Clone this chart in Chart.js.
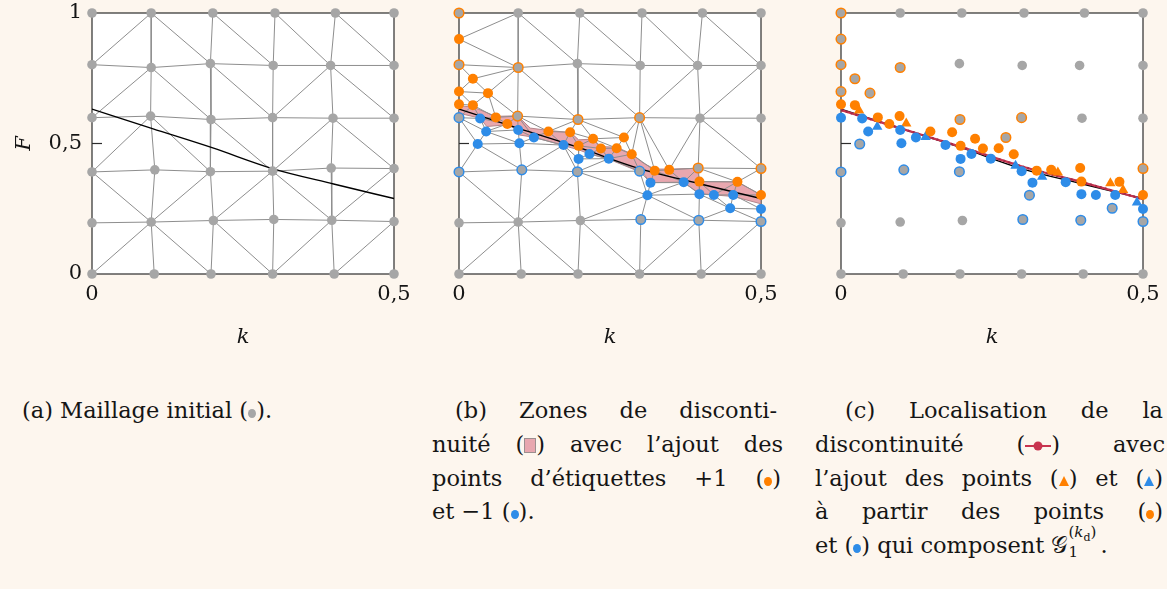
<!DOCTYPE html>
<html>
<head>
<meta charset="utf-8">
<script src="https://cdn.jsdelivr.net/npm/chart.js@4"></script>
<style>
html,body{margin:0;padding:0;background:#fdf6ee;width:1167px;height:589px;overflow:hidden;position:relative;}
canvas{position:absolute;}
.cap{position:absolute;font-family:"DejaVu Serif",serif;font-size:22.5px;color:#151515;line-height:34px;}
.j{text-align:justify;text-align-last:justify;}
.ic{display:inline-block;vertical-align:0px;}
.dot{width:8px;height:9px;border-radius:50%;}
.g{background:#a6a6a6;} .o{background:#ff8000;} .b{background:#2e8ce8;}
.sq{width:10px;height:13px;background:#e8a7af;border:1px solid #9b8f8f;vertical-align:-1px;}
.G{font-family:"DejaVu Serif","DejaVu Sans",serif;}
.ss{position:relative;display:inline-block;width:33px;height:10px;}
.ss span{position:absolute;left:1px;font-size:15px;line-height:1;}
</style>
</head>
<body>
<canvas id="pa"></canvas>
<canvas id="pb"></canvas>
<canvas id="pc"></canvas>

<div class="cap" style="left:22px;top:393px;">(a) Maillage initial (<span class="ic dot g"></span>).</div>

<div class="cap j" style="left:455px;top:393px;width:322px;">(b) Zones de disconti-</div>
<div class="cap j" style="left:432px;top:427px;width:351px;">nuité (<span class="ic sq"></span>) avec l’ajout des</div>
<div class="cap j" style="left:432px;top:461px;width:349px;">points d’étiquettes +1 (<span class="ic dot o"></span>)</div>
<div class="cap" style="left:432px;top:494px;">et −1 (<span class="ic dot b"></span>).</div>

<div class="cap j" style="left:845px;top:393px;width:318px;">(c) Localisation de la</div>
<div class="cap j" style="left:815px;top:427px;width:350px;">discontinuité (<svg class="ic" width="26" height="12" style="vertical-align:0px"><line x1="0" y1="6" x2="26" y2="6" stroke="#c8344f" stroke-width="2"/><circle cx="13" cy="6" r="4.5" fill="#c8344f"/></svg>) avec</div>
<div class="cap j" style="left:815px;top:461px;width:348px;">l’ajout des points (<svg class="ic" width="10" height="10"><polygon points="5,0 10,10 0,10" fill="#ff8000"/></svg>) et (<svg class="ic" width="10" height="10"><polygon points="5,0 10,10 0,10" fill="#2e8ce8"/></svg>)</div>
<div class="cap j" style="left:815px;top:494px;width:348px;">à partir des points (<span class="ic dot o"></span>)</div>
<div class="cap" style="left:815px;top:528px;">et (<span class="ic dot b"></span>) qui composent <span class="G">𝒢</span><span class="ss"><span style="top:-18px">(<i>k</i><sub style="font-size:11px">d</sub>)</span><span style="top:2px">1</span></span>.</div>

<script>
// ---------- DATA ----------
const kTickValues = [0, 0.5];
const FTickValues = [0, 0.5, 1];
const tickText = {0: '0', 0.5: '0,5', 1: '1'};
const axisTitleK = 'k';
const axisTitleF = 'F';

// initial mesh nodes, rows by F level (A: F=1 ... G: F=0), columns k≈0..0.5
const meshRowA = [[0,1],[0.098,1],[0.200,1],[0.303,1],[0.403,1],[0.5,1]];
const meshRowB = [[0,0.802],[0.098,0.791],[0.196,0.806],[0.300,0.799],[0.395,0.799],[0.5,0.799]];
const meshRowC = [[0,0.599],[0.097,0.605],[0.197,0.592],[0.299,0.599],[0.399,0.597],[0.5,0.597]];
const meshRowD = [[0,0.391],[0.104,0.399],[0.196,0.392],[0.299,0.394],[0.396,0.406],[0.5,0.404]];
const meshRowE = [[0,0.196],[0.098,0.199],[0.201,0.205],[0.301,0.209],[0.397,0.206],[0.5,0.201]];
const meshRowG = [[0,0],[0.103,0],[0.197,0],[0.299,0],[0.401,0],[0.5,0]];

// added points with label +1 (o1..o21) and -1 (u1..u18)
const plusPoints = [[0,0.900],[0.023,0.748],[0,0.699],[0.048,0.693],[0,0.650],[0.023,0.647],[0.061,0.600],[0.080,0.575],[0.148,0.546],[0.184,0.543],[0.222,0.518],[0.273,0.523],[0.198,0.491],[0.235,0.481],[0.261,0.482],[0.286,0.459],[0.324,0.396],[0.348,0.399],[0.398,0.354],[0.461,0.353],[0.5,0.303]];
const minusPoints = [[0.035,0.596],[0.045,0.546],[0.031,0.498],[0.098,0.552],[0.100,0.501],[0.124,0.523],[0.173,0.494],[0.198,0.441],[0.216,0.460],[0.248,0.442],[0.317,0.350],[0.312,0.302],[0.372,0.352],[0.398,0.306],[0.422,0.303],[0.454,0.303],[0.449,0.252],[0.5,0.249]];

// exact discontinuity curve and localised discontinuity
const exactK = [0, 0.1, 0.2, 0.3, 0.4, 0.5];
const exactF = [0.632, 0.557, 0.483, 0.403, 0.345, 0.289];
const localK = [0, 0.1, 0.2, 0.3, 0.4, 0.5];
const localF = [0.628, 0.557, 0.486, 0.412, 0.351, 0.287];

// discontinuity zone outline (panel b)
const bandUpper = [[0,0.645],[0.024,0.639],[0.061,0.604],[0.097,0.606],[0.118,0.559],[0.148,0.550],[0.185,0.542],[0.198,0.514],[0.222,0.517],[0.235,0.488],[0.261,0.486],[0.286,0.460],[0.305,0.425],[0.324,0.402],[0.348,0.402],[0.395,0.405],[0.398,0.354],[0.461,0.353],[0.5,0.303]];
const bandLower = [[0.5,0.269],[0.454,0.297],[0.422,0.303],[0.398,0.309],[0.372,0.350],[0.317,0.350],[0.305,0.386],[0.248,0.440],[0.216,0.460],[0.198,0.476],[0.173,0.492],[0.124,0.524],[0.099,0.533],[0.097,0.552],[0.080,0.572],[0.046,0.565],[0.035,0.597],[0,0.616]];

// mesh edges
const meshEdgesA = [
 'B0-B1','B1-B2','B2-B3','B3-B4','B4-B5','C0-C1','C1-C2','C2-C3','C3-C4','C4-C5',
 'D0-D1','D1-D2','D2-D3','D3-D4','D4-D5','E0-E1','E1-E2','E2-E3','E3-E4','E4-E5',
 'A1-B1','A2-B2','A3-B3','A4-B4','B1-C1','B2-C2','B3-C3','B4-C4','C1-D1','C2-D2','C3-D3','C4-D4',
 'D1-E1','D2-E2','D3-E3','D4-E4','E1-G1','E2-G2','E3-G3','E4-G4',
 'B0-A1','A1-B2','A2-B3','A3-B4','A4-B5','C0-B1','B1-C2','B2-C3','C3-B4','B4-C5',
 'D0-C1','C1-D2','C2-D3','D3-C4','C4-D5','D0-E1','E1-D2','D3-E2','D3-E4','E4-D5',
 'G0-E1','E1-G2','E2-G3','G3-E4','G4-E5'];
const meshEdgesB = [
 'o1-A1','o1-B1','A1-B1','A1-B2','A2-B2','A2-B3','A3-B3','A3-B4','A4-B4','A4-B5',
 'B0-B1','B1-B2','B2-B3','B3-B4','B4-B5',
 'B0-o2','B1-o2','o2-o3','o2-o4','B1-o4','o3-o4','o3-o6','o4-o6','o5-o6','o4-o7','o6-o7','o4-C1','o7-C1','o7-o8','o8-C1',
 'B1-C1','B1-C2','C1-C2','B2-C2','B2-C3','C2-C3','B3-C3','B4-C3','B4-C4','C3-C4','B5-C4','C4-C5',
 'C0-o6','C0-u1','u1-o6','u1-o7','u1-o8','u1-u2','C0-u2','u2-o8','u2-u4','o8-u4','C1-u4','u2-u3','C0-u3','u3-u5','u2-u5','u4-u5','u4-u6','u5-u6','C1-u6','C1-o9','u6-o9','u6-u7','u5-u7','o9-u7','o9-o10',
 'C2-o9','C2-o10','C2-o11','C2-o12','o10-o11','o10-u7','o10-o13','u7-o13','u7-u8','o11-o13','o13-u8','o13-u9','u8-u9','o13-o14','o11-o14','o14-u9','u9-u10','o14-o15','o11-o15',
 'o11-o12','o12-o15','o15-u10','o14-u10','o15-o16','u10-o16','o12-o16','C3-o12','C3-o16','C3-o17','o16-o17','o16-D3','u10-D3','u10-D2','u8-u10','u8-D2','u7-D2',
 'D3-o17','D3-u11','o17-u11','D3-u12','u11-u12','u11-u13','o17-u13','o17-o18','C3-o18','C4-o18','o18-u13','o18-D4','C4-D4','C4-D5','D4-D5','u13-D4','u13-o19','D4-o19',
 'u12-u13','u12-u14','u13-u14','o19-u14','o19-u15','u14-u15','o19-o20','D4-o20','D5-o20','o20-o21','o20-u15','o20-u16','u15-u16','u16-o21','u16-u18','u15-u17','u16-u17','u17-u18',
 'u17-E5','u14-u17','u14-E4','u17-E4','u12-E4','u12-E3','u12-E2','D2-u12','D2-D3',
 'D0-u3','u3-D1','u5-D1','u7-D1','D0-D1','D1-D2',
 'D0-E1','D1-E1','E1-D2','D2-E2','E0-E1','E1-E2','E2-E3','E3-E4','E4-E5',
 'G0-E1','E1-G1','E1-G2','E2-G2','E2-G3','E3-G3','G3-E4','E4-G4','G4-E5'];

// point roles
const bPlusMeshNodes = ['A0','B0','B1','C1','C2','C3','D4','D5'];
const bMinusMeshNodes = ['C0','D0','D1','D2','D3','E3','E4','E5'];
const cG1Plus = ['C1','D4','o5','o6','o7','o8','o9','o10','o11','o13','o14','o15','o16','o17','o18','o19','o20','o21'];
const cG1Minus = ['C0','D3','u1','u2','u4','u5','u6','u7','u8','u9','u10','u11','u13','u14','u15','u16','u18'];
const cPlusOther = ['A0','B0','B1','C2','C3','D5','o1','o2','o3','o4','o12'];
const cMinusOther = ['D0','D1','D2','E3','E4','E5','u3','u12','u17'];
const cNewPlus = [[0.030,0.626],[0.108,0.577],[0.359,0.389],[0.446,0.348],[0.467,0.322]];
const cNewMinus = [[0.060,0.564],[0.140,0.525],[0.289,0.415],[0.333,0.373],[0.490,0.274]];

// ---------- BUILD ----------
const GREY = '#a6a6a6', ORANGE = '#ff8000', BLUE = '#2e8ce8', EDGE = '#8e8e8e', RED = '#c8344f';
const FONT = '"DejaVu Serif", serif';
const node = {};
const rowNames = ['A','B','C','D','E','G'];
[meshRowA, meshRowB, meshRowC, meshRowD, meshRowE, meshRowG].forEach((row, r) => row.forEach((p, c) => node[rowNames[r] + c] = p));
plusPoints.forEach((p, i) => node['o' + (i + 1)] = p);
minusPoints.forEach((p, i) => node['u' + (i + 1)] = p);
const meshNames = Object.keys(node).filter(n => /^[A-G]/.test(n));

const pt = p => ({x: p[0], y: p[1]});
const pts = names => names.map(n => pt(node[n]));
function edgeData(edges) {
  const out = [];
  edges.forEach(e => { const [a, b] = e.split('-'); out.push(pt(node[a]), pt(node[b]), {x: null, y: null}); });
  return out;
}
const curve = (ks, fs) => ks.map((k, i) => ({x: k, y: fs[i]}));

const edgeSet = (edges) => ({type: 'line', data: edgeData(edges), borderColor: EDGE, borderWidth: 1, pointRadius: 0, spanGaps: false, tension: 0, order: 40, clip: false});
const exactSet = () => ({type: 'line', data: curve(exactK, exactF), borderColor: '#000', borderWidth: 1.4, pointRadius: 0, cubicInterpolationMode: 'monotone', order: 30});
const dotSet = (data, fill, stroke, order, r) => ({data, pointStyle: 'circle', pointRadius: r || 4.8, backgroundColor: fill, borderColor: stroke || fill, borderWidth: stroke ? 1.5 : 0, order, clip: false});

const paperPlugin = {
  id: 'paper',
  beforeDraw(chart) {
    const {ctx, chartArea: a} = chart;
    ctx.save(); ctx.fillStyle = '#ffffff'; ctx.fillRect(a.left, a.top, a.right - a.left, a.bottom - a.top); ctx.restore();
  },
  beforeDatasetsDraw(chart) {
    const {ctx, chartArea: a, scales} = chart;
    ctx.save(); ctx.strokeStyle = '#2c2c2c'; ctx.lineWidth = 1.2;
    ctx.strokeRect(a.left, a.top, a.right - a.left, a.bottom - a.top);
    const py = scales.y.getPixelForValue(0.5);
    ctx.beginPath(); ctx.moveTo(a.left, py); ctx.lineTo(a.left + 10, py); ctx.stroke();
    ctx.restore();
  }
};

function makePanel(id, area, datasets, showY) {
  const cv = document.getElementById(id);
  const PL = 100, PT = 40, PR = 100, XH = 80, PB = 20;
  const W = (area.R - area.L) + PL + PR, H = (area.B - area.T) + PT + XH + PB;
  cv.width = W; cv.height = H;
  cv.style.width = W + 'px'; cv.style.height = H + 'px';
  cv.style.left = (area.L - PL) + 'px'; cv.style.top = (area.T - PT) + 'px';
  const tickFont = {family: FONT, size: 21, lineHeight: 1.2};
  const titleFont = {family: FONT, size: 21, style: 'italic', lineHeight: 1.2};
  return new Chart(cv, {
    type: 'scatter',
    data: {datasets},
    plugins: [paperPlugin],
    options: {
      responsive: false, animation: false, devicePixelRatio: 1,
      layout: {padding: {left: 0, top: PT, right: PR, bottom: PB}},
      plugins: {legend: {display: false}, tooltip: {enabled: false}},
      events: [],
      scales: {
        x: {type: 'linear', position: 'bottom', min: 0, max: 0.5,
            afterFit: s => { s.height = XH; },
            afterBuildTicks: s => { s.ticks = kTickValues.map(v => ({value: v})); },
            grid: {display: false, drawTicks: false}, border: {display: false},
            ticks: {padding: 8, font: tickFont, color: '#151515', maxRotation: 0, autoSkip: false, callback: v => tickText[v]},
            title: {display: true, text: axisTitleK, font: titleFont, color: '#151515', padding: {top: 0, bottom: 4}}},
        y: {type: 'linear', position: 'left', min: 0, max: 1,
            afterFit: s => { s.width = PL; },
            afterBuildTicks: s => { s.ticks = FTickValues.map(v => ({value: v})); },
            grid: {display: false, drawTicks: false}, border: {display: false},
            ticks: {display: showY, padding: 10, font: tickFont, color: '#151515', callback: v => tickText[v]},
            title: {display: showY, text: axisTitleF, font: titleFont, color: '#151515', padding: {top: 20, bottom: 0}}}
      }
    }
  });
}

// panel a
makePanel('pa', {L: 92, T: 13, R: 394, B: 274}, [
  dotSet(pts(meshNames), GREY, null, 10),
  exactSet(),
  edgeSet(meshEdgesA)
], true);

// panel b
const bandPoly = bandUpper.concat(bandLower, [bandUpper[0]]).map(pt);
makePanel('pb', {L: 459, T: 13, R: 761, B: 274}, [
  dotSet(pts(minusPoints.map((p, i) => 'u' + (i + 1))), BLUE, null, 4, 5),
  dotSet(pts(plusPoints.map((p, i) => 'o' + (i + 1))), ORANGE, null, 5, 5),
  dotSet(pts(bMinusMeshNodes), GREY, BLUE, 8),
  dotSet(pts(bPlusMeshNodes), GREY, ORANGE, 9),
  dotSet(pts(meshNames.filter(n => !bPlusMeshNodes.includes(n) && !bMinusMeshNodes.includes(n))), GREY, null, 10),
  exactSet(),
  edgeSet(meshEdgesB),
  {type: 'line', data: bandPoly, fill: 'shape', backgroundColor: '#e8a7af', borderColor: '#b5868c', borderWidth: 1, pointRadius: 0, tension: 0, order: 50}
], false);

// panel c
const cUsed = [].concat(cG1Plus, cG1Minus, cPlusOther, cMinusOther);
makePanel('pc', {L: 841, T: 13, R: 1143, B: 274}, [
  dotSet(pts(cG1Minus), BLUE, null, 4, 5),
  dotSet(pts(cG1Plus), ORANGE, null, 5, 5),
  {data: cNewMinus.map(pt), pointStyle: 'triangle', pointRadius: 6, backgroundColor: BLUE, borderWidth: 0, order: 6, clip: false},
  {data: cNewPlus.map(pt), pointStyle: 'triangle', pointRadius: 6, backgroundColor: ORANGE, borderWidth: 0, order: 7, clip: false},
  dotSet(pts(cMinusOther), GREY, BLUE, 8),
  dotSet(pts(cPlusOther), GREY, ORANGE, 9),
  dotSet(pts(meshNames.filter(n => !cUsed.includes(n))), GREY, null, 10),
  {type: 'line', data: curve(localK, localF), borderColor: '#a42a48', borderWidth: 2.2, borderDash: [2, 3], pointRadius: 0, cubicInterpolationMode: 'monotone', order: 24},
  {type: 'line', data: curve(localK, localF), borderColor: RED, borderWidth: 2.2, pointRadius: 0, cubicInterpolationMode: 'monotone', order: 25},
  exactSet()
], false);
</script>
</body>
</html>
